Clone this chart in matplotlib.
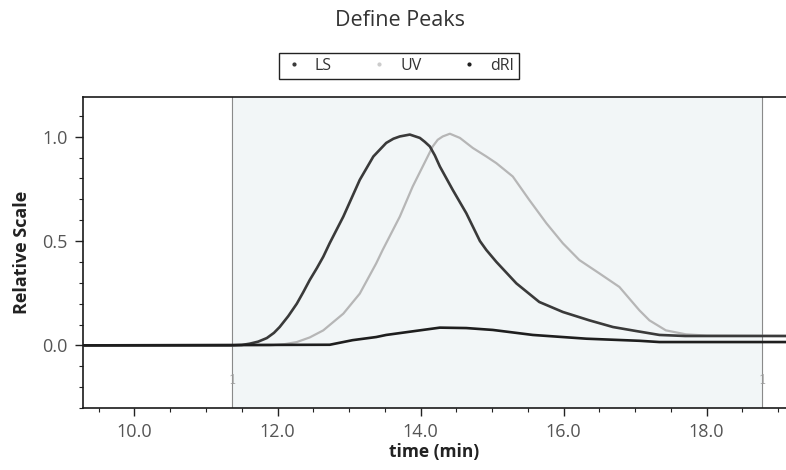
import matplotlib
matplotlib.use('Agg')
import matplotlib.pyplot as plt
from matplotlib.lines import Line2D
from matplotlib.ticker import MultipleLocator, FormatStrFormatter

plt.rcParams['font.family'] = ['Open Sans', 'DejaVu Sans']

# traces (time in min, relative scale)
ls_t = [9.28, 11.37, 11.5, 11.61, 11.73, 11.85, 11.95, 12.03, 12.15, 12.27, 12.36,
        12.45, 12.55, 12.64, 12.73, 12.92, 13.15, 13.34, 13.52, 13.62, 13.71, 13.85,
        13.99, 14.06, 14.13, 14.2, 14.27, 14.45, 14.64, 14.83, 14.92, 15.06, 15.34,
        15.66, 15.99, 16.36, 16.69, 17.01, 17.34, 17.7, 18.5, 19.11]
ls_v = [0, 0, 0.002, 0.008, 0.018, 0.035, 0.06, 0.088, 0.14, 0.2, 0.255,
        0.313, 0.37, 0.425, 0.49, 0.617, 0.793, 0.905, 0.97, 0.99, 1.001, 1.01,
        0.994, 0.975, 0.953, 0.91, 0.857, 0.745, 0.633, 0.50, 0.457, 0.40, 0.297,
        0.208, 0.160, 0.12, 0.088, 0.069, 0.05, 0.045, 0.045, 0.045]

uv_t = [9.28, 11.9, 12.1, 12.27, 12.45, 12.64, 12.92, 13.15, 13.38, 13.47, 13.71,
        13.89, 14.03, 14.17, 14.24, 14.31, 14.41, 14.55, 14.73, 14.92, 15.06, 15.29,
        15.52, 15.76, 15.99, 16.22, 16.50, 16.78, 17.06, 17.20, 17.43, 17.71, 18.0, 19.11]
uv_v = [0, 0, 0.006, 0.016, 0.038, 0.072, 0.152, 0.248, 0.393, 0.457, 0.617,
        0.761, 0.857, 0.953, 0.985, 1.001, 1.014, 0.994, 0.946, 0.905, 0.873, 0.809,
        0.697, 0.585, 0.489, 0.409, 0.345, 0.28, 0.168, 0.12, 0.072, 0.053, 0.047, 0.045]

dri_t = [9.28, 12.73, 13.05, 13.38, 13.52, 13.99, 14.27, 14.64, 15.01, 15.57, 16.32,
         17.06, 17.34, 19.11]
dri_v = [0, 0.003, 0.025, 0.04, 0.05, 0.072, 0.085, 0.083, 0.074, 0.05, 0.032,
         0.022, 0.016, 0.016]

peak_start, peak_end = 11.37, 18.78
series_names = ['LS', 'UV', 'dRI']

fig = plt.figure(figsize=(7.86, 4.70), dpi=100)
ax = fig.add_axes([83 / 786, 62 / 470, 703 / 786, 311 / 470])

ax.axvspan(peak_start, peak_end, color='#f2f6f7', zorder=0)
for x in (peak_start, peak_end):
    ax.axvline(x, color='#8a8a8a', lw=0.8, zorder=1)
    ax.text(x, -0.168, '1', ha='center', va='center', color='#9a9a9a',
            fontsize=9, family='DejaVu Serif', zorder=2)

ax.plot(uv_t, uv_v, color='#b6b6b6', lw=1.6, zorder=3)
ax.plot(ls_t, ls_v, color='#3a3a3a', lw=1.9, zorder=4)
ax.plot(dri_t, dri_v, color='#1e1e1e', lw=1.9, zorder=5)

ax.set_xlim(9.28, 19.11)
ax.set_ylim(-0.30, 1.19)
ax.xaxis.set_major_locator(MultipleLocator(2.0))
ax.xaxis.set_minor_locator(MultipleLocator(0.5))
ax.yaxis.set_major_locator(MultipleLocator(0.5))
ax.yaxis.set_minor_locator(MultipleLocator(0.1))
ax.xaxis.set_major_formatter(FormatStrFormatter('%.1f'))
ax.yaxis.set_major_formatter(FormatStrFormatter('%.1f'))
ax.tick_params(which='major', length=6, width=1.0, color='#222', labelcolor='#555',
               labelsize=13, pad=5)
ax.tick_params(which='minor', length=3, width=0.8, color='#222')

ax.spines['right'].set_visible(False)
for s in ('left', 'top', 'bottom'):
    ax.spines[s].set_linewidth(1.2)
    ax.spines[s].set_color('#1a1a1a')

ax.set_xlabel('time (min)', fontsize=12.5, fontweight='bold', color='#222', labelpad=1)
ax.set_ylabel('Relative Scale', fontsize=13, fontweight='bold', color='#222', labelpad=8)

fig.text(400 / 786, 1 - 21 / 470, 'Define Peaks', ha='center', va='center',
         fontsize=15.5, color='#333')

handles = [
    Line2D([], [], ls='none', marker='o', ms=2, color='#3a3a3a'),
    Line2D([], [], ls='none', marker='o', ms=2, color='#cccccc'),
    Line2D([], [], ls='none', marker='o', ms=2, color='#1e1e1e'),
]
leg = fig.legend(handles, series_names, loc='center', bbox_to_anchor=(399 / 786, 1 - 66 / 470),
                 ncol=3, fancybox=False, edgecolor='#222', framealpha=1, fontsize=11.5,
                 handlelength=1.2, handletextpad=0.7, columnspacing=2.4, borderpad=0.3)
leg.get_frame().set_linewidth(1.0)
for t in leg.get_texts():
    t.set_color('#333')

fig.savefig('out.png', dpi=100)
